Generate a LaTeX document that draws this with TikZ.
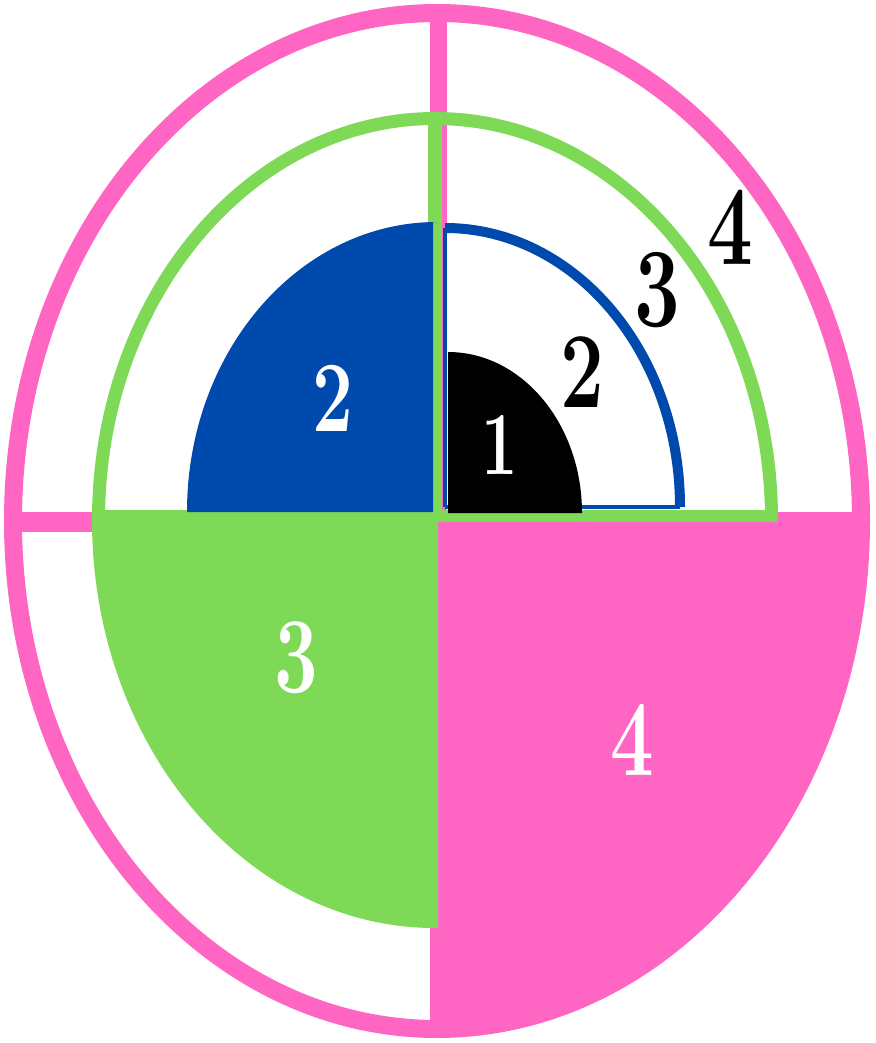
\documentclass[tikz,border=0pt]{standalone}
\usepackage{xcolor}
\usepackage{tikz}
\usetikzlibrary{calc}
\definecolor{ovPink}{HTML}{FF66C4}
\definecolor{ovGreen}{HTML}{7ED957}
\definecolor{ovBlue}{HTML}{004AAD}
\tikzset{
  % Pink ring and cross bars
  pinkline/.style={draw=ovPink,line width=18pt},
  % Green ring
  greenline/.style={draw=ovGreen,line width=13pt},
  % Blue ring (thick arc, thin sides)
  blueline/.style={draw=ovBlue,line width=10pt},
  bluethin/.style={draw=ovBlue,line width=4pt},
  % Digit labels
  numw/.style={inner sep=0pt,text=white,font=\fontsize{108}{108}\selectfont\bfseries},
  numb/.style={inner sep=0pt,text=black,font=\fontsize{108}{108}\selectfont\bfseries},
}

\begin{document}
\begin{tikzpicture}[x=1pt,y=1pt]
  \useasboundingbox (0,0) rectangle (875,-1043);

  % pink ring
  \coordinate (pc) at (437,-521);
  \coordinate (pl) at (5,-522);
  \coordinate (pr) at (870,-522);
  \coordinate (pt) at (438,-5);
  \coordinate (pb) at (438,-1038);
  \fill[ovPink] (pc) -- ++(424,0)
    arc[start angle=0,end angle=-90,x radius=424,y radius=508] -- cycle;
  \draw[pinkline,line width=20pt] (pl) -- (pr);
  \draw[pinkline,line width=17pt] (pt) -- (pb);
  \draw[pinkline] (pc) ellipse[x radius=424,y radius=508];

  % green ring
  \coordinate (gc) at (435,-520);
  \coordinate (gt) at (435,-112);
  \coordinate (gb) at (435,-520);
  \coordinate (gl) at (437,-516);
  \coordinate (gr) at (777,-516);
  \fill[ovGreen] (438,-510) -- (92,-510) -- (92,-520)
    arc[start angle=180,end angle=270,x radius=343,y radius=408]
    -- (438,-928) -- cycle;
  \draw[greenline] (771.5,-520)
    arc[start angle=0,end angle=180,x radius=336.5,y radius=401.5];
  \draw[greenline,line width=12pt] (gl) -- (gr);
  \draw[greenline,line width=14pt] (gt) -- (gb);

  % blue ring
  \coordinate (bo) at (445,-507);
  \coordinate (br) at (680,-507);
  \coordinate (bt) at (445,-228);
  \fill[ovBlue] (433,-512) -- (187,-512)
    arc[start angle=180,end angle=90,x radius=250,y radius=290]
    -- (433,-222) -- cycle;
  \draw[bluethin] (bo) -- (br);
  \draw[bluethin] (bo) -- (bt);
  \draw[blueline] (br)
    arc[start angle=0,end angle=90,x radius=235,y radius=279];

  % black core
  \coordinate (kc) at (448,-513);
  \fill[black] (kc) -- ++(134,0)
    arc[start angle=0,end angle=90,x radius=134,y radius=161] -- cycle;

  % digits
  \node[numw,font=\fontsize{90}{90}\selectfont\bfseries] (one) at (500,-445) {\scalebox{0.72}[1]{1}};
  \node[numb] (twob) at (582,-372) {\scalebox{0.72}[1]{2}};
  \node[numb,font=\fontsize{113}{113}\selectfont\bfseries] (threeb) at (657,-290) {\scalebox{0.72}[1]{3}};
  \node[numb,font=\fontsize{113}{113}\selectfont\bfseries] (fourb) at (730,-227) {\scalebox{0.72}[1]{4}};
  \node[numw,font=\fontsize{101}{101}\selectfont\bfseries] (twow) at (333,-398) {\scalebox{0.72}[1]{2}};
  \node[numw] (threew) at (296,-658) {\scalebox{0.72}[1]{3}};
  \node[numw] (fourw) at (632,-740) {\scalebox{0.72}[1]{4}};
\end{tikzpicture}
\end{document}
